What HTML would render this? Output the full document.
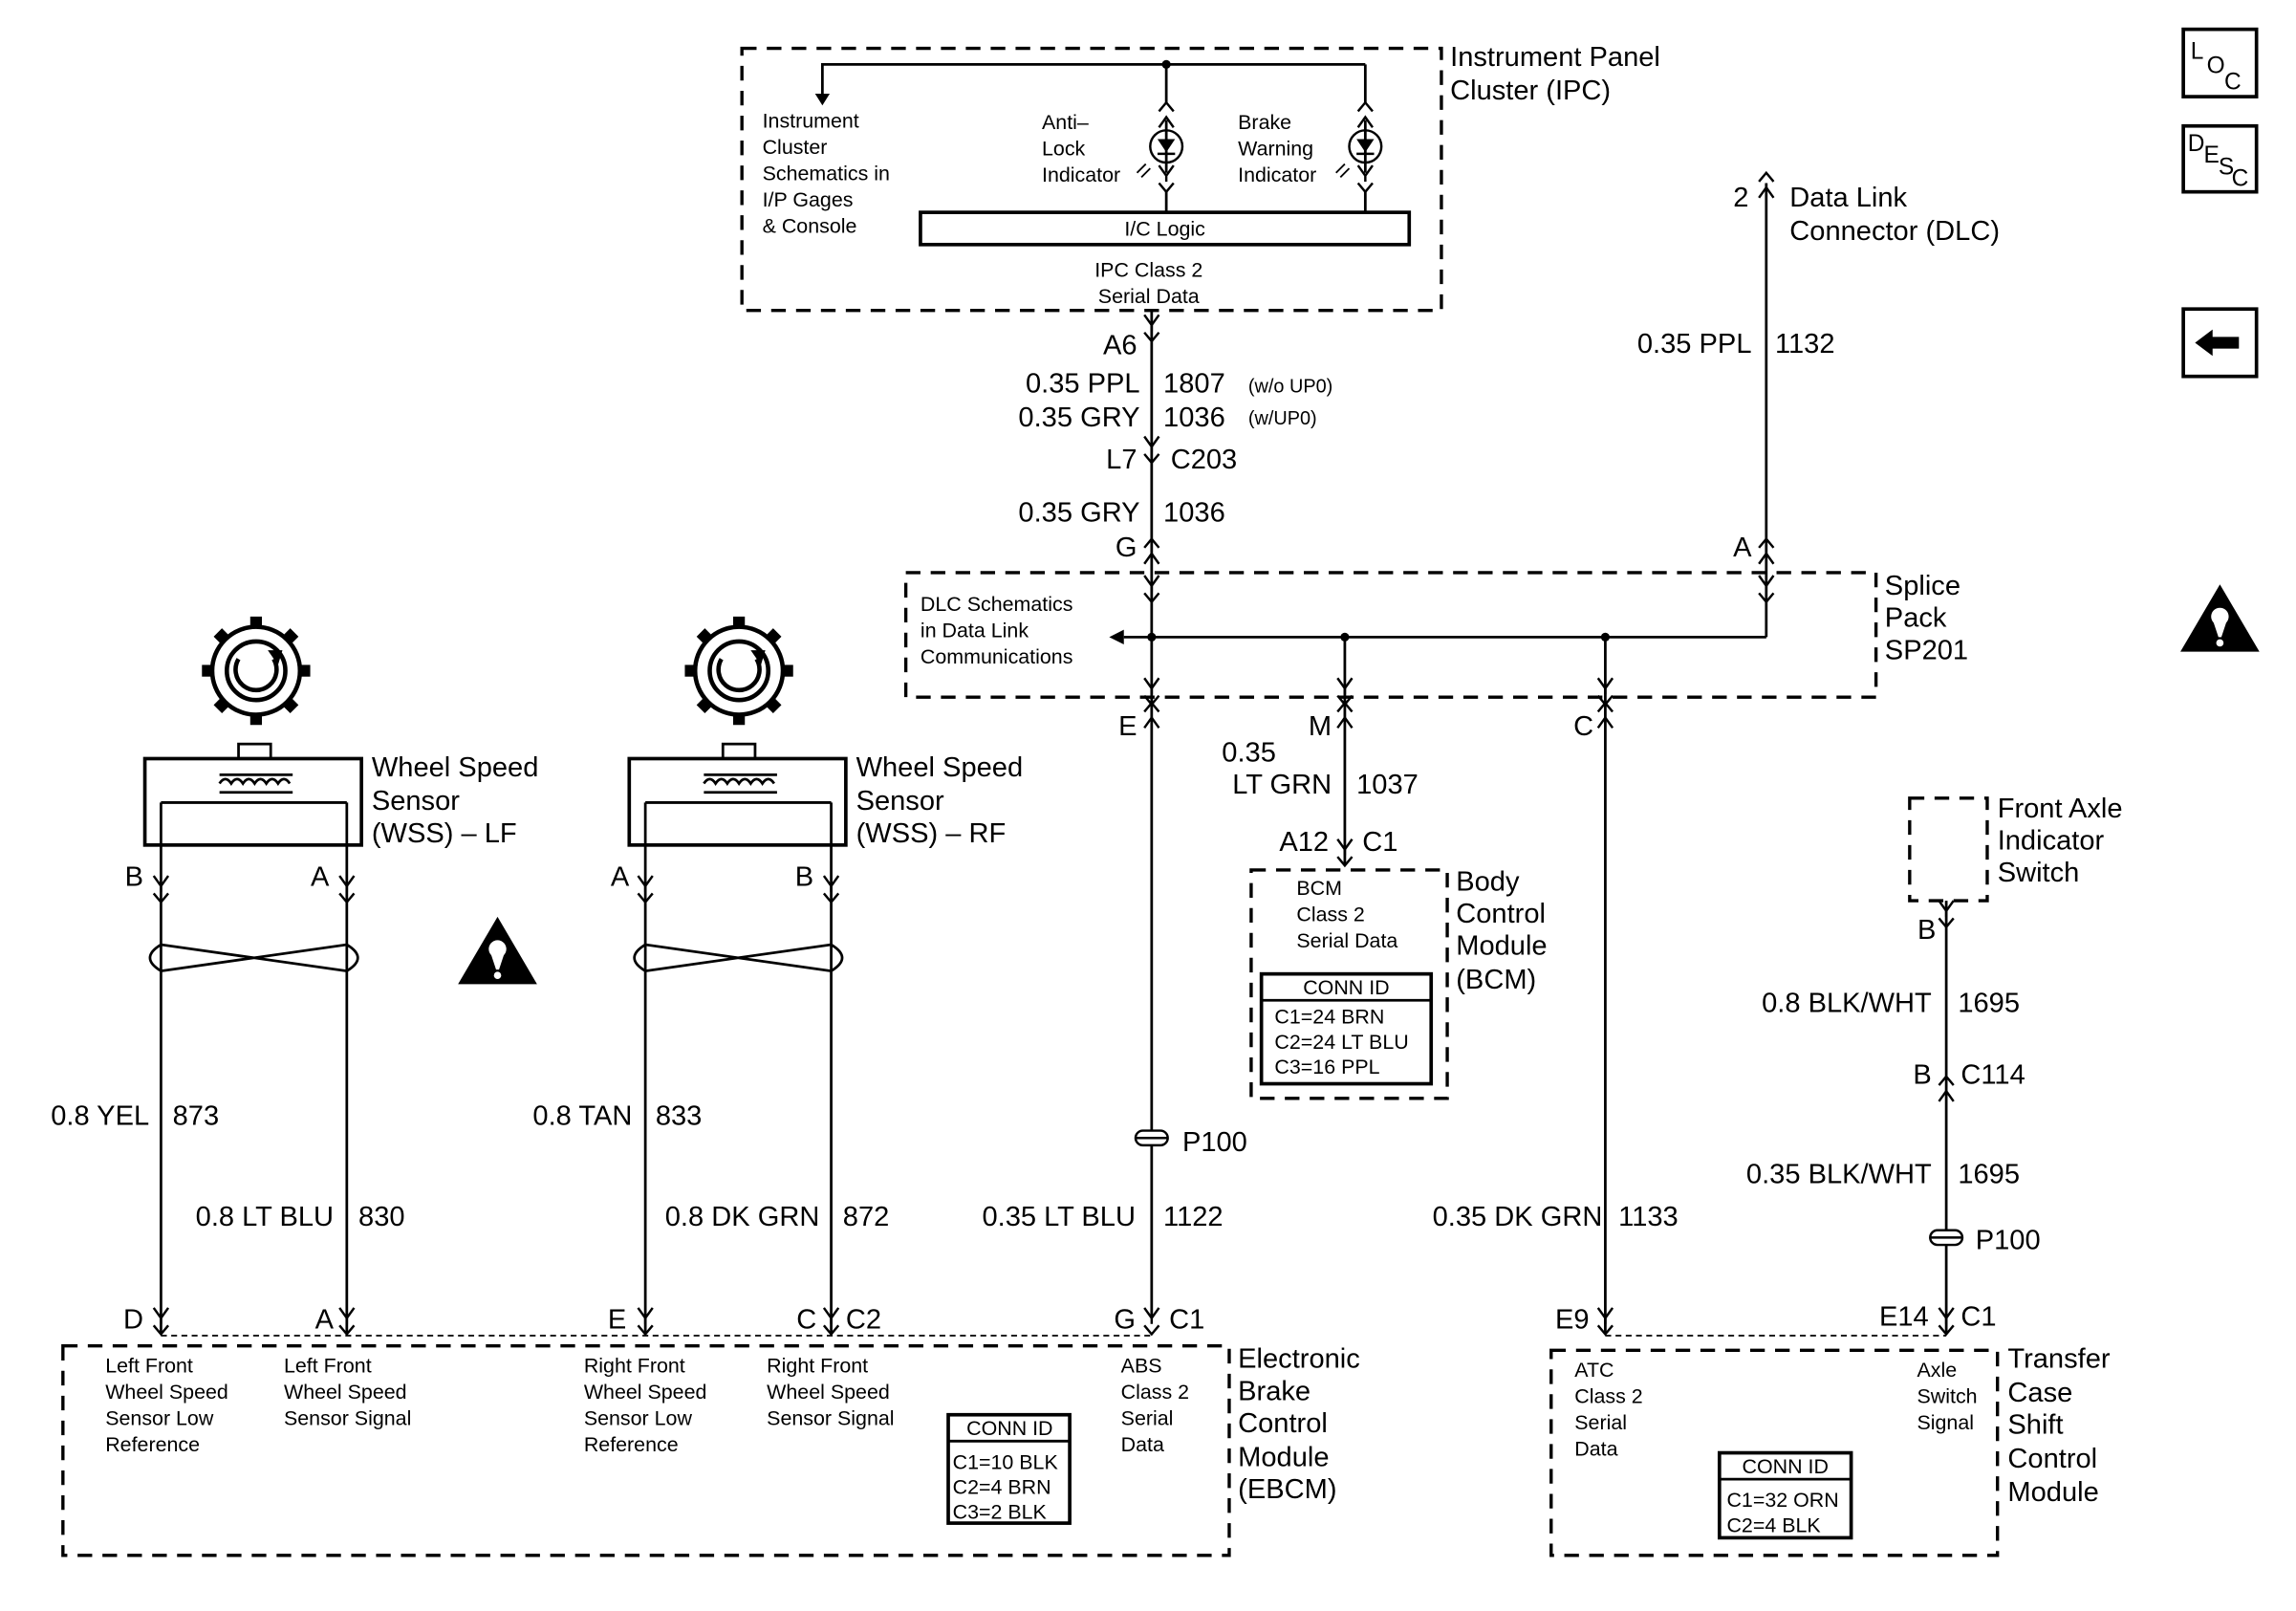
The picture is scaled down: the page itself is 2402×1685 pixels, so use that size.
<!DOCTYPE html>
<html><head><meta charset="utf-8"><style>
html,body{margin:0;padding:0;background:#fff;}
svg{display:block;}
text{font-family:"Liberation Sans",Arial,sans-serif;fill:#000;}
.b{font-size:19px;}
.s{font-size:14px;}
.m{font-size:13px;}
.l{font-size:16px;}
</style></head><body>
<svg width="2402" height="1685" viewBox="0 0 1569 1100" preserveAspectRatio="none" xmlns="http://www.w3.org/2000/svg">
<defs>
<g id="cn"><path d="M-5,-7 L0,0 L5,-7 M0,0 L0,4" fill="none" stroke="#000" stroke-width="1.6"/><path d="M-5,5 L0,11 L5,5" fill="none" stroke="#000" stroke-width="1.6"/></g>
<g id="cu"><path d="M-5,7 L0,0 L5,7 M-5,-4 L0,-10 L5,-4" fill="none" stroke="#000" stroke-width="1.6"/></g>
<g id="p1"><rect x="-11" y="-5" width="22" height="10" rx="5" fill="#fff" stroke="#000" stroke-width="1.6"/><line x1="-11" y1="0" x2="11" y2="0" stroke="#000" stroke-width="1.6"/></g>
<g id="gear"><circle r="30" fill="none" stroke="#000" stroke-width="3"/><circle r="20" fill="none" stroke="#000" stroke-width="3"/>
<g fill="#000"><rect x="-4" y="-37" width="8" height="8"/><rect x="-4" y="29" width="8" height="8"/><rect x="-37" y="-4" width="8" height="8"/><rect x="29" y="-4" width="8" height="8"/>
<rect x="-4" y="-37" width="8" height="8" transform="rotate(45)"/><rect x="-4" y="-37" width="8" height="8" transform="rotate(135)"/><rect x="-4" y="-37" width="8" height="8" transform="rotate(225)"/><rect x="-4" y="-37" width="8" height="8" transform="rotate(315)"/></g>
<path d="M-12,-8 A14,14 0 1,0 12,-8" fill="none" stroke="#000" stroke-width="3"/><path d="M8,-14 L15,-4 L18,-14 Z" fill="#000"/></g>
<g id="tri"><path d="M0,-24 L27,22 L-27,22 Z" fill="#000"/><circle cx="0" cy="-2" r="6" fill="#fff"/><path d="M-5,0 L5,0 L1,12 L-1,12 Z" fill="#fff"/><circle cx="0" cy="16" r="2.5" fill="#fff"/></g>
<g id="led"><circle r="11" fill="none" stroke="#000" stroke-width="1.6"/><path d="M-6,-5 L6,-5 L0,4 Z" fill="#000"/><line x1="-6" y1="5" x2="6" y2="5" stroke="#000" stroke-width="1.6"/><line x1="0" y1="-11" x2="0" y2="11" stroke="#000" stroke-width="1.2"/><path d="M-14,12 L-20,18 M-11,15 L-17,21" stroke="#000" stroke-width="1.2"/></g>
</defs>
<g fill="none" stroke="#000" stroke-width="2.2" stroke-dasharray="10,7">
<rect x="507" y="33" width="478" height="179"/>
<rect x="619" y="391" width="663" height="85"/>
<rect x="855" y="594" width="134" height="156"/>
<rect x="43" y="919" width="797" height="143"/>
<rect x="1060" y="922" width="305" height="140"/>
<rect x="1305" y="545" width="53" height="70"/>
</g>
<g fill="none" stroke="#000" stroke-width="1.2" stroke-dasharray="4,3">
<line x1="110" y1="912" x2="787" y2="912"/><line x1="1097" y1="912" x2="1330" y2="912"/>
</g>
<g stroke="#000" stroke-width="1.8" fill="none">
<path d="M797,44 L562,44 L562,66"/><path d="M797,44 L933,44"/>
<line x1="797" y1="44" x2="797" y2="145"/><line x1="933" y1="44" x2="933" y2="145"/>
<rect x="629" y="145" width="334" height="22" stroke-width="2.4"/>
<line x1="787" y1="212" x2="787" y2="900"/>
<line x1="1207" y1="125" x2="1207" y2="435"/>
<line x1="768" y1="435" x2="1207" y2="435"/>
<line x1="919" y1="435" x2="919" y2="590"/>
<line x1="1097" y1="435" x2="1097" y2="910"/>
<line x1="1330" y1="615" x2="1330" y2="910"/>
<line x1="110" y1="548" x2="110" y2="910"/><line x1="237" y1="548" x2="237" y2="910"/>
<line x1="441" y1="548" x2="441" y2="910"/><line x1="568" y1="548" x2="568" y2="910"/>
<rect x="99" y="518" width="148" height="59" stroke-width="2.4"/><rect x="163" y="508" width="22" height="10"/>
<rect x="430" y="518" width="148" height="59" stroke-width="2.4"/><rect x="494" y="508" width="22" height="10"/>
<path d="M110,548 L237,548 M150,541 L200,541 M150,535 q4,-6 8,0 q4,-6 8,0 q4,-6 8,0 q4,-6 8,0 q4,-6 8,0 q4,-6 8,0 M150,529 L200,529"/>
<path d="M441,548 L568,548 M481,541 L531,541 M481,535 q4,-6 8,0 q4,-6 8,0 q4,-6 8,0 q4,-6 8,0 q4,-6 8,0 q4,-6 8,0 M481,529 L531,529"/>
<path d="M110,645 Q95,654 110,663 L237,645 Q252,654 237,663 L110,645 Z"/>
<path d="M441,645 Q426,654 441,663 L568,645 Q583,654 568,663 L441,645 Z"/>
<rect x="862" y="665" width="116" height="75" stroke-width="2.4"/><line x1="862" y1="683" x2="978" y2="683"/>
<rect x="648" y="966" width="83" height="74" stroke-width="2.4"/><line x1="648" y1="984" x2="731" y2="984"/>
<rect x="1175" y="992" width="90" height="58" stroke-width="2.4"/><line x1="1175" y1="1010" x2="1265" y2="1010"/>
<rect x="1492" y="20" width="50" height="46" stroke-width="2.4"/>
<rect x="1492" y="86" width="50" height="45" stroke-width="2.4"/>
<rect x="1492" y="211" width="50" height="46" stroke-width="2.4"/>
</g>
<path d="M557,64 L562,72 L567,64 Z M768,430 L758,435 L768,440 Z" fill="#000"/>
<path d="M1500,234 L1512,225 L1512,230 L1530,230 L1530,238 L1512,238 L1512,243 Z" fill="#000"/>
<g fill="#000"><circle cx="797" cy="44" r="3"/><circle cx="787" cy="435" r="3"/><circle cx="919" cy="435" r="3"/><circle cx="1097" cy="435" r="3"/></g>
<g fill="#fff"><rect x="790" y="70" width="14" height="12"/><rect x="926" y="70" width="14" height="12"/><rect x="790" y="118" width="14" height="12"/><rect x="926" y="118" width="14" height="12"/></g>
<use href="#cu" x="797" y="80"/><use href="#cu" x="933" y="80"/>
<use href="#cn" x="797" y="120"/><use href="#cn" x="933" y="120"/>
<use href="#led" x="797" y="100"/><use href="#led" x="933" y="100"/>
<use href="#cn" x="787" y="222"/><use href="#cn" x="787" y="305"/><use href="#cu" x="787" y="378"/>
<use href="#cu" x="1207" y="378"/><use href="#cu" x="1207" y="128"/>
<use href="#cn" x="787" y="400"/><use href="#cn" x="787" y="470"/><use href="#cu" x="787" y="490"/>
<use href="#cn" x="919" y="470"/><use href="#cu" x="919" y="490"/><use href="#cn" x="919" y="580"/>
<use href="#cn" x="1097" y="470"/><use href="#cu" x="1097" y="490"/>
<use href="#cn" x="1207" y="400"/>
<use href="#p1" x="787" y="777"/><use href="#p1" x="1330" y="845"/>
<use href="#cn" x="787" y="900"/><use href="#cn" x="1097" y="900"/><use href="#cn" x="1330" y="900"/>
<use href="#cn" x="1330" y="622"/><use href="#cu" x="1330" y="745"/>
<use href="#cn" x="110" y="605"/><use href="#cn" x="237" y="605"/><use href="#cn" x="441" y="605"/><use href="#cn" x="568" y="605"/>
<use href="#cn" x="110" y="900"/><use href="#cn" x="237" y="900"/><use href="#cn" x="441" y="900"/><use href="#cn" x="568" y="900"/>
<use href="#gear" x="175" y="458"/><use href="#gear" x="505" y="458"/>
<use href="#tri" x="340" y="650"/><use href="#tri" x="1517" y="423"/>

<g class="b">
<text x="991" y="45">Instrument Panel</text><text x="991" y="68">Cluster (IPC)</text>
<text x="1195" y="141" text-anchor="end">2</text><text x="1223" y="141">Data Link</text><text x="1223" y="164">Connector (DLC)</text>
<text x="1197" y="241" text-anchor="end">0.35 PPL</text><text x="1213" y="241">1132</text>
<text x="777" y="242" text-anchor="end">A6</text>
<text x="779" y="268" text-anchor="end">0.35 PPL</text><text x="795" y="268">1807</text>
<text x="779" y="291" text-anchor="end">0.35 GRY</text><text x="795" y="291">1036</text>
<text x="777" y="320" text-anchor="end">L7</text><text x="800" y="320">C203</text>
<text x="779" y="356" text-anchor="end">0.35 GRY</text><text x="795" y="356">1036</text>
<text x="777" y="380" text-anchor="end">G</text><text x="1197" y="380" text-anchor="end">A</text>
<text x="1288" y="406">Splice</text><text x="1288" y="428">Pack</text><text x="1288" y="450">SP201</text>
<text x="777" y="502" text-anchor="end">E</text><text x="910" y="502" text-anchor="end">M</text><text x="1089" y="502" text-anchor="end">C</text>
<text x="835" y="520">0.35</text><text x="910" y="542" text-anchor="end">LT GRN</text><text x="927" y="542">1037</text>
<text x="908" y="581" text-anchor="end">A12</text><text x="931" y="581">C1</text>
<text x="995" y="608">Body</text><text x="995" y="630">Control</text><text x="995" y="652">Module</text><text x="995" y="675">(BCM)</text>
<text x="808" y="786">P100</text><text x="1350" y="853">P100</text>
<text x="776" y="837" text-anchor="end">0.35 LT BLU</text><text x="795" y="837">1122</text>
<text x="1095" y="837" text-anchor="end">0.35 DK GRN</text><text x="1106" y="837">1133</text>
<text x="776" y="907" text-anchor="end">G</text><text x="799" y="907">C1</text>
<text x="1086" y="907" text-anchor="end">E9</text>
<text x="1318" y="905" text-anchor="end">E14</text><text x="1340" y="905">C1</text>
<text x="254" y="530">Wheel Speed</text><text x="254" y="553">Sensor</text><text x="254" y="575">(WSS) – LF</text>
<text x="585" y="530">Wheel Speed</text><text x="585" y="553">Sensor</text><text x="585" y="575">(WSS) – RF</text>
<text x="98" y="605" text-anchor="end">B</text><text x="225" y="605" text-anchor="end">A</text>
<text x="430" y="605" text-anchor="end">A</text><text x="556" y="605" text-anchor="end">B</text>
<text x="102" y="768" text-anchor="end">0.8 YEL</text><text x="118" y="768">873</text>
<text x="228" y="837" text-anchor="end">0.8 LT BLU</text><text x="245" y="837">830</text>
<text x="432" y="768" text-anchor="end">0.8 TAN</text><text x="448" y="768">833</text>
<text x="560" y="837" text-anchor="end">0.8 DK GRN</text><text x="576" y="837">872</text>
<text x="98" y="907" text-anchor="end">D</text><text x="228" y="907" text-anchor="end">A</text>
<text x="428" y="907" text-anchor="end">E</text><text x="558" y="907" text-anchor="end">C</text><text x="578" y="907">C2</text>
<text x="846" y="934">Electronic</text><text x="846" y="956">Brake</text><text x="846" y="978">Control</text><text x="846" y="1001">Module</text><text x="846" y="1023">(EBCM)</text>
<text x="1365" y="558">Front Axle</text><text x="1365" y="580">Indicator</text><text x="1365" y="602">Switch</text>
<text x="1323" y="641" text-anchor="end">B</text>
<text x="1320" y="691" text-anchor="end">0.8 BLK/WHT</text><text x="1338" y="691">1695</text>
<text x="1320" y="740" text-anchor="end">B</text><text x="1340" y="740">C114</text>
<text x="1320" y="808" text-anchor="end">0.35 BLK/WHT</text><text x="1338" y="808">1695</text>
<text x="1372" y="934">Transfer</text><text x="1372" y="957">Case</text><text x="1372" y="979">Shift</text><text x="1372" y="1002">Control</text><text x="1372" y="1025">Module</text>
</g>
<g class="s">
<text x="521" y="87">Instrument</text><text x="521" y="105">Cluster</text><text x="521" y="123">Schematics in</text><text x="521" y="141">I/P Gages</text><text x="521" y="159">&amp; Console</text>
<text x="712" y="88">Anti–</text><text x="712" y="106">Lock</text><text x="712" y="124">Indicator</text>
<text x="846" y="88">Brake</text><text x="846" y="106">Warning</text><text x="846" y="124">Indicator</text>
<text x="796" y="161" text-anchor="middle">I/C Logic</text>
<text x="785" y="189" text-anchor="middle">IPC Class 2</text><text x="785" y="207" text-anchor="middle">Serial Data</text>
<text x="629" y="417">DLC Schematics</text><text x="629" y="435">in Data Link</text><text x="629" y="453">Communications</text>
<text x="886" y="611">BCM</text><text x="886" y="629">Class 2</text><text x="886" y="647">Serial Data</text>
<text x="920" y="679" text-anchor="middle">CONN ID</text>
<text x="871" y="699">C1=24 BRN</text><text x="871" y="716">C2=24 LT BLU</text><text x="871" y="733">C3=16 PPL</text>
<text x="72" y="937">Left Front</text><text x="72" y="955">Wheel Speed</text><text x="72" y="973">Sensor Low</text><text x="72" y="991">Reference</text>
<text x="194" y="937">Left Front</text><text x="194" y="955">Wheel Speed</text><text x="194" y="973">Sensor Signal</text>
<text x="399" y="937">Right Front</text><text x="399" y="955">Wheel Speed</text><text x="399" y="973">Sensor Low</text><text x="399" y="991">Reference</text>
<text x="524" y="937">Right Front</text><text x="524" y="955">Wheel Speed</text><text x="524" y="973">Sensor Signal</text>
<text x="766" y="937">ABS</text><text x="766" y="955">Class 2</text><text x="766" y="973">Serial</text><text x="766" y="991">Data</text>
<text x="690" y="980" text-anchor="middle">CONN ID</text>
<text x="651" y="1003">C1=10 BLK</text><text x="651" y="1020">C2=4 BRN</text><text x="651" y="1037">C3=2 BLK</text>
<text x="1076" y="940">ATC</text><text x="1076" y="958">Class 2</text><text x="1076" y="976">Serial</text><text x="1076" y="994">Data</text>
<text x="1310" y="940">Axle</text><text x="1310" y="958">Switch</text><text x="1310" y="976">Signal</text>
<text x="1220" y="1006" text-anchor="middle">CONN ID</text>
<text x="1180" y="1029">C1=32 ORN</text><text x="1180" y="1046">C2=4 BLK</text>
</g>
<g class="m">
<text x="853" y="268">(w/o UP0)</text><text x="853" y="290">(w/UP0)</text>
</g>
<g class="l">
<text x="1497" y="40">L</text><text x="1508" y="50">O</text><text x="1520" y="61">C</text>
<text x="1495" y="103">D</text><text x="1506" y="111">E</text><text x="1516" y="119">S</text><text x="1525" y="127">C</text>
</g>
</svg>
</body></html>
